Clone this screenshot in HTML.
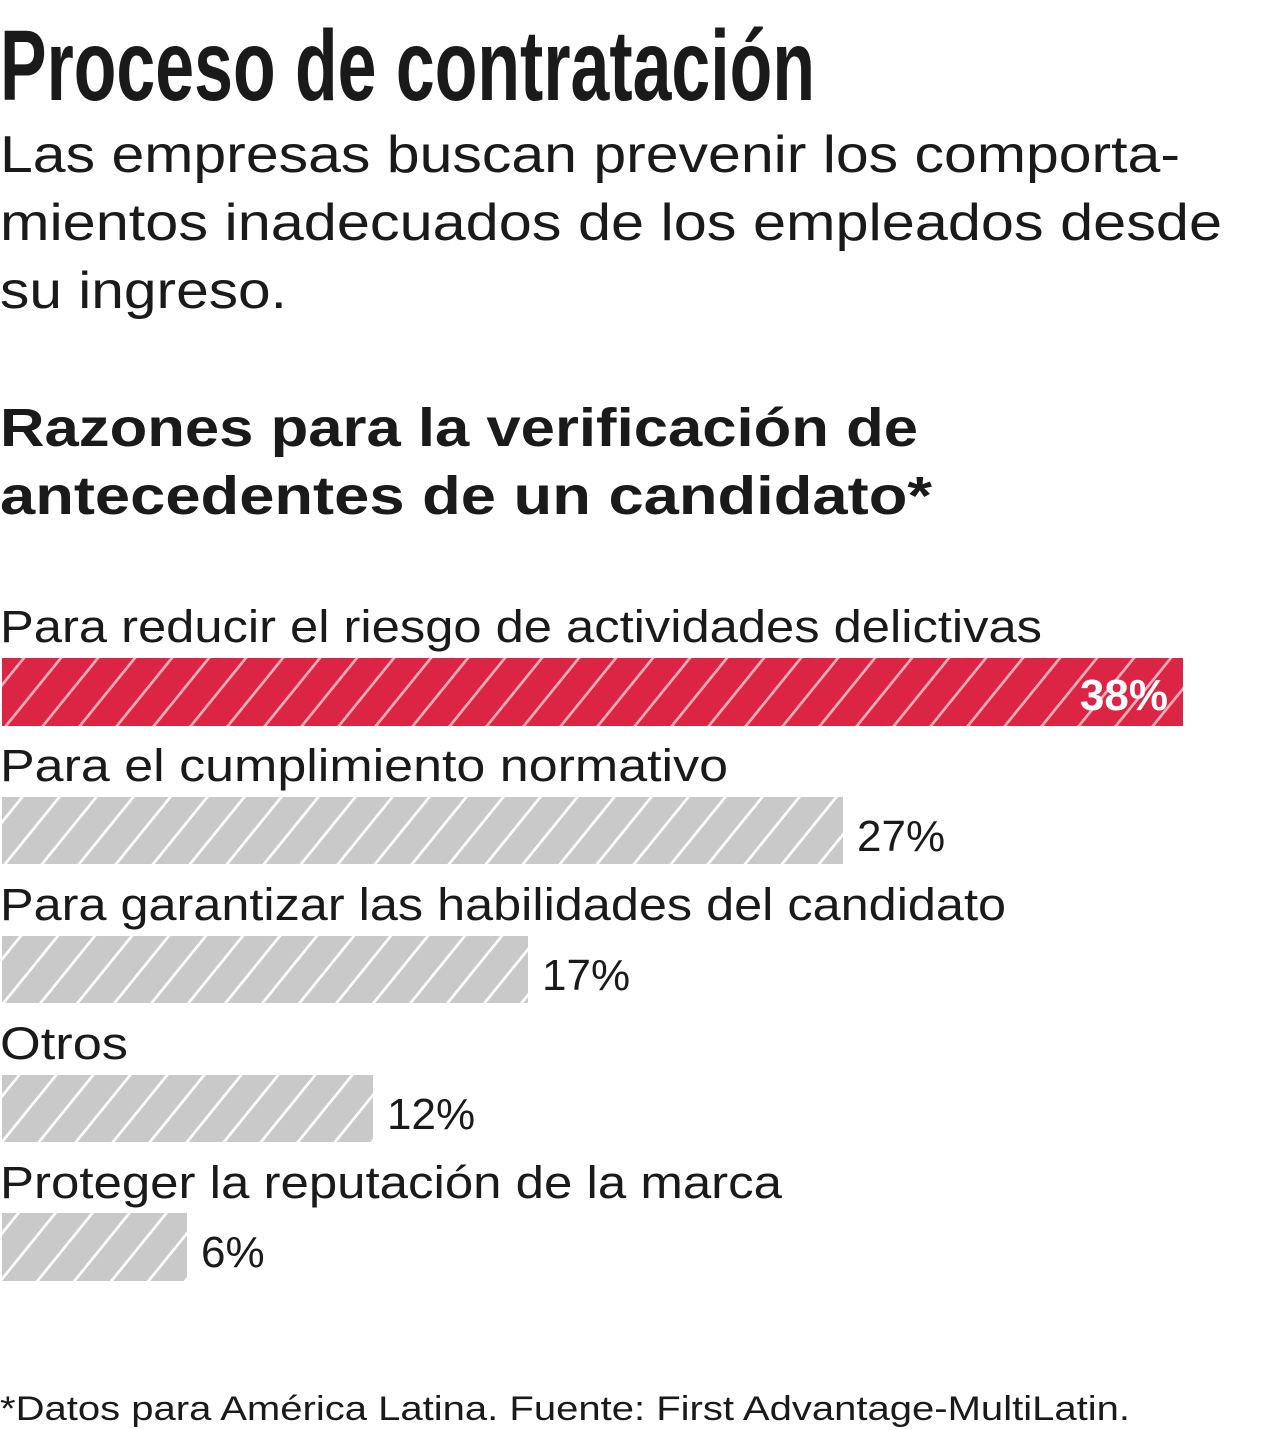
<!DOCTYPE html>
<html><head><meta charset="utf-8"><style>
html,body{margin:0;padding:0;background:#fff;}
svg{display:block}
text{font-family:"Liberation Sans",sans-serif;fill:#1a1a1a}
</style></head><body>
<svg width="1280" height="1430" viewBox="0 0 1280 1430" xmlns="http://www.w3.org/2000/svg">
<defs>
<pattern id="hr" patternUnits="userSpaceOnUse" width="37" height="68" patternTransform="skewX(-39)">
<rect width="37" height="68" fill="#dc2545"/><rect x="0" width="3.5" height="68" fill="#f5aab6"/>
</pattern>
<pattern id="hg" patternUnits="userSpaceOnUse" width="37" height="68" patternTransform="skewX(-39)">
<rect width="37" height="68" fill="#c9c9c9"/><rect x="0" width="3.5" height="68" fill="#fff"/>
</pattern>
</defs>
<text x="0" y="100" font-size="100" font-weight="bold" textLength="815" lengthAdjust="spacingAndGlyphs">Proceso de contratación</text>
<text x="0" y="172" font-size="52" textLength="1180" lengthAdjust="spacingAndGlyphs">Las empresas buscan prevenir los comporta-</text>
<text x="0" y="240" font-size="52" textLength="1222" lengthAdjust="spacingAndGlyphs">mientos inadecuados de los empleados desde</text>
<text x="0" y="308" font-size="52" textLength="287" lengthAdjust="spacingAndGlyphs">su ingreso.</text>
<text x="0" y="446" font-size="54" font-weight="bold" textLength="918" lengthAdjust="spacingAndGlyphs">Razones para la verificación de</text>
<text x="0" y="514" font-size="54" font-weight="bold" textLength="932" lengthAdjust="spacingAndGlyphs">antecedentes de un candidato*</text>

<text x="0" y="642" font-size="45" textLength="1042" lengthAdjust="spacingAndGlyphs">Para reducir el riesgo de actividades delictivas</text>
<rect x="2" y="658" width="1181" height="68" fill="url(#hr)"/>
<text x="1168" y="710" font-size="44" font-weight="bold" text-anchor="end" style="fill:#fff">38%</text>

<text x="0" y="781" font-size="45" textLength="728" lengthAdjust="spacingAndGlyphs">Para el cumplimiento normativo</text>
<rect x="2" y="797" width="841" height="67" fill="url(#hg)"/>
<text x="857" y="851" font-size="44">27%</text>

<text x="0" y="920" font-size="45" textLength="1006" lengthAdjust="spacingAndGlyphs">Para garantizar las habilidades del candidato</text>
<rect x="2" y="936" width="526" height="67" fill="url(#hg)"/>
<text x="542" y="990" font-size="44">17%</text>

<text x="0" y="1059" font-size="45" textLength="128" lengthAdjust="spacingAndGlyphs">Otros</text>
<rect x="2" y="1075" width="371" height="67" fill="url(#hg)"/>
<text x="387" y="1129" font-size="44">12%</text>

<text x="0" y="1198" font-size="45" textLength="782" lengthAdjust="spacingAndGlyphs">Proteger la reputación de la marca</text>
<rect x="2" y="1213" width="185" height="68" fill="url(#hg)"/>
<text x="201" y="1267" font-size="44">6%</text>

<text x="0" y="1420" font-size="34" textLength="1130" lengthAdjust="spacingAndGlyphs">*Datos para América Latina. Fuente: First Advantage-MultiLatin.</text>
</svg>
</body></html>
